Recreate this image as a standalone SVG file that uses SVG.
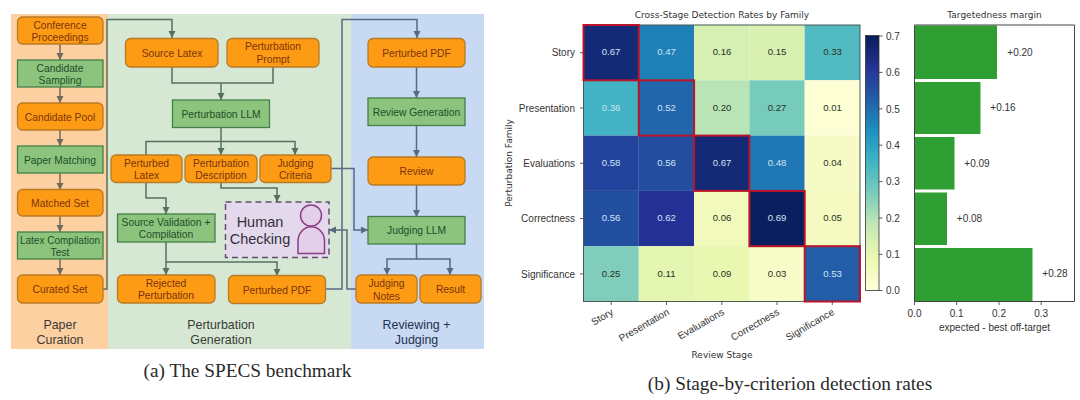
<svg xmlns="http://www.w3.org/2000/svg" width="1080" height="400" viewBox="0 0 1080 400">
<style>
text{font-family:"Liberation Sans",Arial,sans-serif;text-anchor:middle}
.o rect{fill:#fd9c14;stroke:#b97a25;stroke-width:1.3}
.o text{fill:#7c3208;font-size:10.3px}
.g rect{fill:#8cc47e;stroke:#43804a;stroke-width:1.3}
.g text{fill:#1f4d28;font-size:10.3px}
.cap{font-family:"Liberation Serif",serif;font-size:19.3px;fill:#2a2a2a}
.sec{font-size:12.4px;fill:#3a3a36}
.m{font-family:"DejaVu Sans",sans-serif;fill:#333}
.t8{font-size:9px}
.t10{font-size:10px}
.v{font-family:"DejaVu Sans",sans-serif;font-size:9.6px}
.w{fill:#cfe3f5}.b{fill:#26331f}
.c{fill:none;stroke-width:1.5}
.tick{stroke:#333;stroke-width:.8;fill:none}
.red{fill:none;stroke:#bb1429;stroke-width:2}
.bar{fill:#2f9f33}
</style>
<defs>
<marker id="a1" markerWidth="8" markerHeight="8" refX="7" refY="3.500" orient="auto" markerUnits="userSpaceOnUse"><path d="M0 0L7 3.500L0 7Z" fill="#6f6a5e"/></marker>
<marker id="a2" markerWidth="8" markerHeight="8" refX="7" refY="3.500" orient="auto" markerUnits="userSpaceOnUse"><path d="M0 0L7 3.500L0 7Z" fill="#56705f"/></marker>
<marker id="a3" markerWidth="8" markerHeight="8" refX="7" refY="3.500" orient="auto" markerUnits="userSpaceOnUse"><path d="M0 0L7 3.500L0 7Z" fill="#566a84"/></marker>
<linearGradient id="cb" x1="0" y1="1" x2="0" y2="0">
<stop offset="0" stop-color="#ffffd9"/><stop offset=".125" stop-color="#edf8b1"/><stop offset=".25" stop-color="#c7e9b4"/><stop offset=".375" stop-color="#7fcdbb"/><stop offset=".5" stop-color="#41b6c4"/><stop offset=".625" stop-color="#1d91c0"/><stop offset=".75" stop-color="#225ea8"/><stop offset=".875" stop-color="#253494"/><stop offset="1" stop-color="#081d58"/>
</linearGradient>
</defs>
<rect width="1080" height="400" fill="#fff"/>
<g id="panels">
<rect x="11" y="14" width="97" height="335" fill="#fdd0a2"/>
<rect x="108" y="14" width="243" height="335" fill="#d6e8d3"/>
<rect x="351" y="14" width="133" height="335" fill="#c8d9f3"/>
<text class="sec" x="60" y="329">Paper</text><text class="sec" x="60" y="344">Curation</text>
<text class="sec" x="221" y="329">Perturbation</text><text class="sec" x="221" y="344">Generation</text>
<text class="sec" x="416.500" y="329" style="fill:#25304f">Reviewing +</text><text class="sec" x="416.500" y="344" style="fill:#25304f">Judging</text>
</g>
<g id="connectors" class="c">
<g stroke="#6f6a5e" marker-end="url(#a1)">
<path d="M60 44V60"/><path d="M60 87V103"/><path d="M60 130V146"/><path d="M60 173V190"/><path d="M60 216V232"/><path d="M60 259V275"/>
</g>
<g stroke="#56705f">
<path d="M103 289H107V19.500H172V38" marker-end="url(#a2)"/>
<path d="M172 67V83H273V67"/>
<path d="M221 83V100" marker-end="url(#a2)"/>
<path d="M221 127V155" marker-end="url(#a2)"/>
<path d="M146 155V141.500H295V155" marker-end="url(#a2)"/>
<path d="M221 182V188H277V202" marker-end="url(#a2)"/>
<path d="M146 182V198H166V214" marker-end="url(#a2)"/>
<path d="M166 242V275" marker-end="url(#a2)"/>
<path d="M166 262H277V276" marker-end="url(#a2)"/>
</g>
<g stroke="#566a84">
<path d="M325.500 289H342V19.500H417V38" marker-end="url(#a3)"/>
<path d="M331 168.500H354V230H368" marker-end="url(#a3)"/>
<path d="M356 289H347V230H329" marker-end="url(#a3)"/>
<path d="M416.500 67V98" marker-end="url(#a3)"/>
<path d="M416.500 125V157" marker-end="url(#a3)"/>
<path d="M416.500 185V217" marker-end="url(#a3)"/>
<path d="M416.500 244V259H387V275" marker-end="url(#a3)"/>
<path d="M416.500 259H450V275" marker-end="url(#a3)"/>
</g>
</g>
<g id="conference" class="o"><rect x="17.500" y="17" width="85.500" height="27" rx="5"/><text x="60" y="28.500">Conference</text><text x="60" y="40.500">Proceedings</text></g>
<g id="sampling" class="g"><rect x="17.500" y="60" width="85.500" height="27"/><text x="60" y="71.500">Candidate</text><text x="60" y="84">Sampling</text></g>
<g id="pool" class="o"><rect x="17.500" y="103" width="85.500" height="27" rx="5"/><text x="60" y="120.500">Candidate Pool</text></g>
<g id="matching" class="g"><rect x="17.500" y="146" width="85.500" height="27"/><text x="60" y="163.500">Paper Matching</text></g>
<g id="matched" class="o"><rect x="17.500" y="189.500" width="85.500" height="26.500" rx="5"/><text x="60" y="206.500">Matched Set</text></g>
<g id="compile" class="g"><rect x="17.500" y="232" width="85.500" height="27"/><text x="60" y="243.500" style="font-size:10px">Latex Compilation</text><text x="60" y="255.500">Test</text></g>
<g id="curated" class="o"><rect x="17.500" y="275" width="85.500" height="28" rx="5"/><text x="60" y="292.500">Curated Set</text></g>
<g id="source-latex" class="o"><rect x="125.500" y="38.500" width="92.500" height="28.500" rx="5"/><text x="172" y="56.500">Source Latex</text></g>
<g id="prompt" class="o"><rect x="227" y="38.500" width="92" height="28.500" rx="5"/><text x="273" y="50">Perturbation</text><text x="273" y="63">Prompt</text></g>
<g id="pert-llm" class="g"><rect x="172.500" y="100" width="97" height="27.500"/><text x="221" y="117.500">Perturbation LLM</text></g>
<g id="pert-latex" class="o"><rect x="111" y="155" width="71" height="27.500" rx="5"/><text x="146.500" y="166.500">Perturbed</text><text x="146.500" y="179">Latex</text></g>
<g id="pert-desc" class="o"><rect x="185" y="155" width="72" height="27.500" rx="5"/><text x="221" y="166.500">Perturbation</text><text x="221" y="179">Description</text></g>
<g id="criteria" class="o"><rect x="260" y="155" width="71" height="27.500" rx="5"/><text x="295.500" y="166.500">Judging</text><text x="295.500" y="179">Criteria</text></g>
<g id="validation" class="g"><rect x="117.500" y="214" width="97.500" height="28"/><text x="166" y="225.500">Source Validation +</text><text x="166" y="238">Compilation</text></g>
<g id="human"><rect x="225.500" y="202" width="103.500" height="55.500" fill="#e3d8ec" stroke="#5d4f6d" stroke-width="1.500" stroke-dasharray="6 4"/>
<text x="260" y="226.500" style="font-size:14.500px;fill:#33303a">Human</text><text x="260" y="243.500" style="font-size:14.500px;fill:#33303a">Checking</text>
<circle cx="311" cy="215.500" r="10.500" fill="#e3d0e8" stroke="#8a3f85" stroke-width="1.500"/>
<path d="M298 253.500V241A13 14 0 0 1 324.500 241V253.500Z" fill="#e3d0e8" stroke="#8a3f85" stroke-width="1.500"/></g>
<g id="rejected" class="o"><rect x="117.500" y="275" width="97.500" height="28" rx="5"/><text x="166" y="286.500">Rejected</text><text x="166" y="299">Perturbation</text></g>
<g id="pdf-left" class="o"><rect x="228.500" y="275.500" width="97" height="28" rx="5"/><text x="277" y="293.500">Perturbed PDF</text></g>
<g id="pdf-right" class="o"><rect x="368" y="38.500" width="97" height="28.500" rx="5"/><text x="416.500" y="56.500">Perturbed PDF</text></g>
<g id="review-gen" class="g"><rect x="368" y="98" width="97" height="27.500"/><text x="416.500" y="115.500">Review Generation</text></g>
<g id="review" class="o"><rect x="368" y="157" width="97" height="28" rx="5"/><text x="416.500" y="175">Review</text></g>
<g id="judging-llm" class="g"><rect x="368" y="216.500" width="97" height="27.500"/><text x="416.500" y="234">Judging LLM</text></g>
<g id="notes" class="o"><rect x="356" y="275" width="61" height="28" rx="5"/><text x="386.500" y="287">Judging</text><text x="386.500" y="299.500">Notes</text></g>
<g id="result" class="o"><rect x="420" y="275" width="61" height="28" rx="5"/><text x="450.500" y="293">Result</text></g>
<text class="cap" x="247.500" y="377">(a) The SPECS benchmark</text>

<g id="heatmap">
<text class="m t8" x="722" y="18">Cross-Stage Detection Rates by Family</text>
<g>
<rect x="583.500" y="25" width="55.300" height="55.300" fill="#152a76"/><rect x="638.800" y="25" width="55.300" height="55.300" fill="#1f80b8"/><rect x="694.100" y="25" width="55.300" height="55.300" fill="#d6efb3"/><rect x="749.400" y="25" width="55.300" height="55.300" fill="#d9f0b3"/><rect x="804.700" y="25" width="55.300" height="55.300" fill="#52bbc2"/>
<rect x="583.500" y="80.300" width="55.300" height="55.300" fill="#41b3c4"/><rect x="638.800" y="80.300" width="55.300" height="55.300" fill="#2165ab"/><rect x="694.100" y="80.300" width="55.300" height="55.300" fill="#b9e4b5"/><rect x="749.400" y="80.300" width="55.300" height="55.300" fill="#76cbbb"/><rect x="804.700" y="80.300" width="55.300" height="55.300" fill="#fdfed3"/>
<rect x="583.500" y="135.600" width="55.300" height="55.300" fill="#24439c"/><rect x="638.800" y="135.600" width="55.300" height="55.300" fill="#234ea0"/><rect x="694.100" y="135.600" width="55.300" height="55.300" fill="#152a76"/><rect x="749.400" y="135.600" width="55.300" height="55.300" fill="#1f78b4"/><rect x="804.700" y="135.600" width="55.300" height="55.300" fill="#f6fbc6"/>
<rect x="583.500" y="190.900" width="55.300" height="55.300" fill="#224ea0"/><rect x="638.800" y="190.900" width="55.300" height="55.300" fill="#243094"/><rect x="694.100" y="190.900" width="55.300" height="55.300" fill="#f1f9bb"/><rect x="749.400" y="190.900" width="55.300" height="55.300" fill="#0a1f5f"/><rect x="804.700" y="190.900" width="55.300" height="55.300" fill="#f4fac0"/>
<rect x="583.500" y="246.200" width="55.300" height="55.300" fill="#80cdbb"/><rect x="638.800" y="246.200" width="55.300" height="55.300" fill="#e5f5b2"/><rect x="694.100" y="246.200" width="55.300" height="55.300" fill="#eaf7b1"/><rect x="749.400" y="246.200" width="55.300" height="55.300" fill="#f8fcc9"/><rect x="804.700" y="246.200" width="55.300" height="55.300" fill="#225ea8"/>
</g>
<rect x="583.500" y="25" width="276.500" height="276.500" fill="none" stroke="#4a5a55" stroke-width="1"/>
<g class="red">
<rect x="583.500" y="25" width="55.300" height="55.300"/><rect x="638.800" y="80.300" width="55.300" height="55.300"/><rect x="694.100" y="135.600" width="55.300" height="55.300"/><rect x="749.400" y="190.900" width="55.300" height="55.300"/><rect x="804.700" y="246.200" width="55.300" height="55.300"/>
</g>
<g class="v">
<text class="w" x="611" y="55">0.67</text><text class="w" x="666.500" y="55">0.47</text><text class="b" x="722" y="55">0.16</text><text class="b" x="777" y="55">0.15</text><text class="b" x="832.500" y="55">0.33</text>
<text class="w" x="611" y="110.500">0.36</text><text class="w" x="666.500" y="110.500">0.52</text><text class="b" x="722" y="110.500">0.20</text><text class="b" x="777" y="110.500">0.27</text><text class="b" x="832.500" y="110.500">0.01</text>
<text class="w" x="611" y="166">0.58</text><text class="w" x="666.500" y="166">0.56</text><text class="w" x="722" y="166">0.67</text><text class="w" x="777" y="166">0.48</text><text class="b" x="832.500" y="166">0.04</text>
<text class="w" x="611" y="221">0.56</text><text class="w" x="666.500" y="221">0.62</text><text class="b" x="722" y="221">0.06</text><text class="w" x="777" y="221">0.69</text><text class="b" x="832.500" y="221">0.05</text>
<text class="b" x="611" y="276.500">0.25</text><text class="b" x="666.500" y="276.500">0.11</text><text class="b" x="722" y="276.500">0.09</text><text class="b" x="777" y="276.500">0.03</text><text class="w" x="832.500" y="276.500">0.53</text>
</g>
<path class="tick" d="M580 52.700H583.500M580 108H583.500M580 163.300H583.500M580 218.600H583.500M580 273.900H583.500M611.200 301.500V305M666.500 301.500V305M721.800 301.500V305M777 301.500V305M832.300 301.500V305"/>
<g class="m t10">
<text x="575" y="56" style="text-anchor:end">Story</text><text x="575" y="111.500" style="text-anchor:end">Presentation</text><text x="575" y="167" style="text-anchor:end">Evaluations</text><text x="575" y="222" style="text-anchor:end">Correctness</text><text x="575" y="277.500" style="text-anchor:end">Significance</text>
<text transform="translate(614 314) rotate(-30)" style="text-anchor:end">Story</text><text transform="translate(670 314) rotate(-30)" style="text-anchor:end">Presentation</text><text transform="translate(725 314) rotate(-30)" style="text-anchor:end">Evaluations</text><text transform="translate(780 314) rotate(-30)" style="text-anchor:end">Correctness</text><text transform="translate(835 314) rotate(-30)" style="text-anchor:end">Significance</text>
</g>
<text class="m t8" x="722" y="358">Review Stage</text>
<text class="m t8" transform="translate(512 163) rotate(-90)">Perturbation Family</text>
</g>
<g id="colorbar">
<rect x="865.500" y="35.500" width="13.500" height="255" fill="url(#cb)" stroke="#333" stroke-width=".8"/>
<path class="tick" d="M879 36H882.500M879 72.400H882.500M879 108.800H882.500M879 145.200H882.500M879 181.600H882.500M879 218H882.500M879 254.400H882.500M879 290.500H882.500"/>
<g class="m t10">
<text x="886" y="39.500" style="text-anchor:start">0.7</text><text x="886" y="76" style="text-anchor:start">0.6</text><text x="886" y="112.500" style="text-anchor:start">0.5</text><text x="886" y="149" style="text-anchor:start">0.4</text><text x="886" y="185.200" style="text-anchor:start">0.3</text><text x="886" y="221.500" style="text-anchor:start">0.2</text><text x="886" y="258" style="text-anchor:start">0.1</text><text x="886" y="294" style="text-anchor:start">0.0</text>
</g>
</g>
<g id="margin">
<text class="m t8" x="994.500" y="18">Targetedness margin</text>
<rect class="bar" x="914.500" y="25.500" width="82.500" height="53.500"/><rect class="bar" x="914.500" y="82" width="66" height="52"/><rect class="bar" x="914.500" y="137" width="40" height="52.500"/><rect class="bar" x="914.500" y="192.500" width="32.500" height="52.500"/><rect class="bar" x="914.500" y="248" width="118" height="53"/>
<path d="M914.500 25H1074.500V301.500H914.500Z" fill="none" stroke="#444" stroke-width="1"/>
<path class="tick" d="M914.500 301.500V305M956.700 301.500V305M999 301.500V305M1041.200 301.500V305"/>
<g class="m t10"><text x="1020" y="55.500">+0.20</text><text x="1003" y="111">+0.16</text><text x="977" y="166.500">+0.09</text><text x="969.500" y="222">+0.08</text><text x="1055" y="277">+0.28</text>
<text x="914.500" y="317">0.0</text><text x="956.700" y="317">0.1</text><text x="999" y="317">0.2</text><text x="1041.200" y="317">0.3</text>
<text x="994.500" y="330.500">expected - best off-target</text></g>
</g>
<text class="cap" x="790" y="390">(b) Stage-by-criterion detection rates</text>
</svg>
